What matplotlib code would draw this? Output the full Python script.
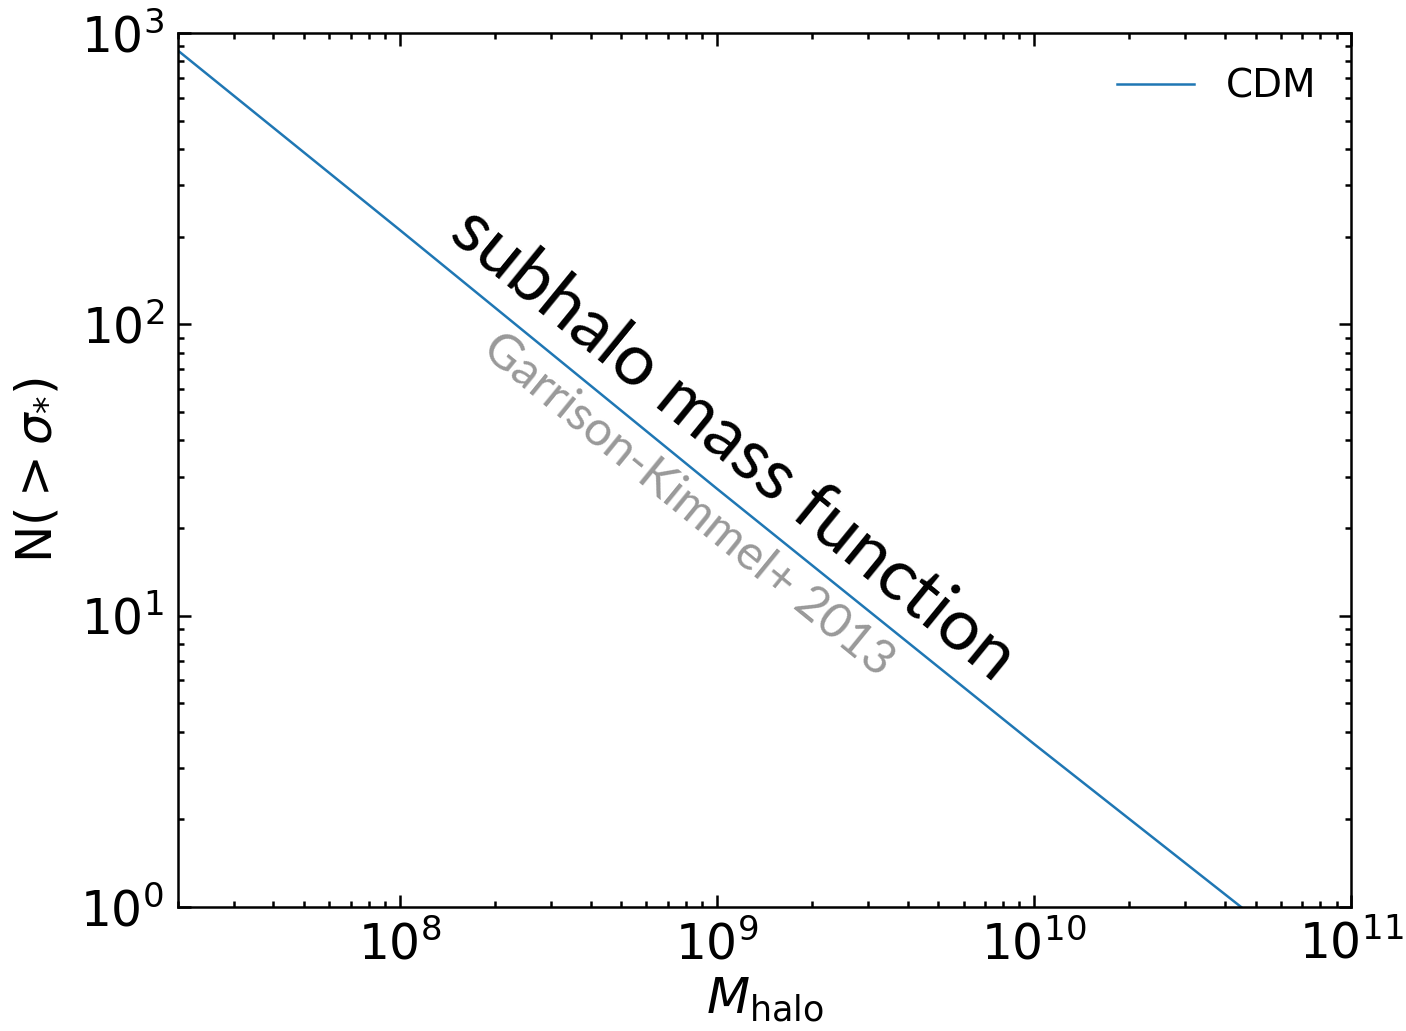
import matplotlib
matplotlib.use("Agg")
import matplotlib.pyplot as plt

# CDM subhalo mass function
m_halo = [2.0e7, 1.0e8, 1.0e9, 1.0e10, 4.5e10]
n_sigma = [870, 211, 27.3, 3.63, 1.0]

plt.rcParams["font.size"] = 17.5
plt.rcParams["mathtext.fontset"] = "dejavusans"

fig = plt.figure(figsize=(7.03, 5.155), dpi=200)
ax = fig.add_axes([0.1266, 0.1203, 0.8343, 0.8477])

ax.plot(m_halo, n_sigma, color="tab:blue", lw=0.9, label="CDM")
ax.set_xscale("log")
ax.set_yscale("log")
ax.set_xlim(2e7, 1e11)
ax.set_ylim(1, 1e3)

ax.set_xlabel(r"$M_{\rm halo}$", labelpad=2, fontsize=18)
ax.set_ylabel(r"N$( > \sigma_{*})$", labelpad=7, fontsize=18)

ax.tick_params(which="both", direction="in", top=True, right=True, width=0.9)
ax.tick_params(which="major", length=4.5, labelsize=17.5, pad=5)
ax.tick_params(which="minor", length=2.3)
for sp in ax.spines.values():
    sp.set_linewidth(0.9)

ax.legend(loc="upper right", frameon=False, fontsize=14)

ax.text(1.13e9, 39.0, "subhalo mass function", rotation=-39.2, fontsize=26,
        family="Lato", ha="center", va="center", rotation_mode="anchor")
ax.text(8.1e8, 24.0, "Garrison-Kimmel+ 2013", rotation=-39.2, fontsize=17.5,
        family="Lato", color="#999999", ha="center",
        va="center", rotation_mode="anchor")

fig.savefig("out.png", dpi=200)
